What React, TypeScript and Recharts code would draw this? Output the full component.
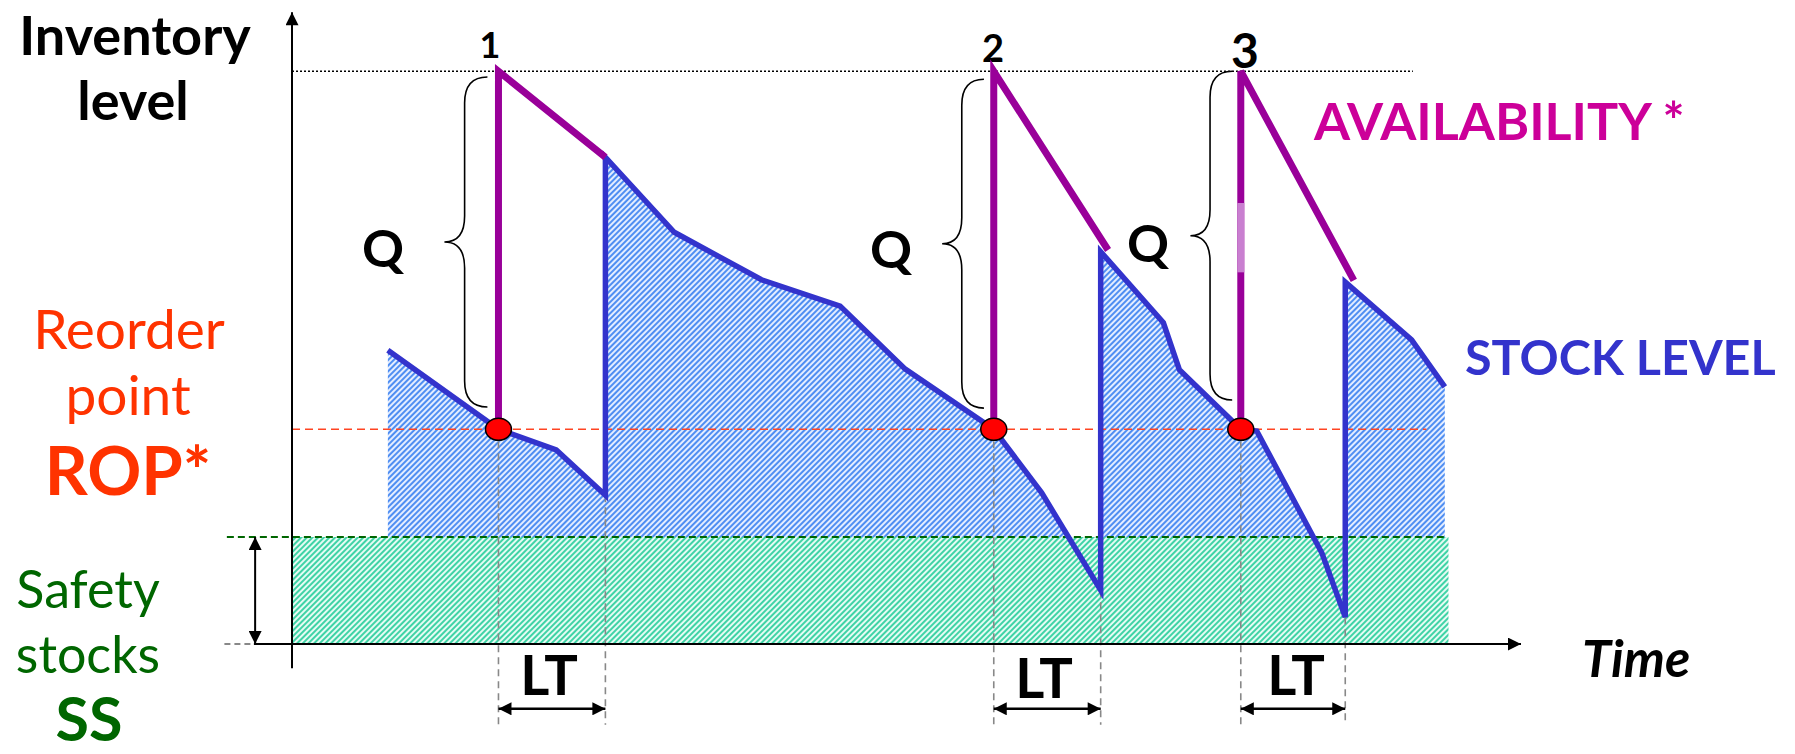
import React from "react";
import {
  Area,
  ComposedChart,
  Line,
  ReferenceArea,
  ReferenceLine,
  Scatter,
  XAxis,
  YAxis
} from "recharts";

// levels in stock units, time in days
const MAX_LEVEL = 100;
const ROP = 37.5;
const SS = 18.7;
const SAFETY_END = 94.1;

const stockTimes = [7.8, 16.8, 21.5, 25.5, 25.5, 31.1, 38.2, 44.6, 49.9, 57.1, 61.0, 65.8, 65.8, 70.9, 72.2, 77.2, 78.5, 83.8, 85.7, 85.7, 91.1, 93.8];
const stockLevels = [51.3, 37.5, 33.9, 26.0, 85.0, 71.9, 63.6, 59.0, 48.0, 37.5, 26.4, 9.4, 68.5, 56.1, 47.9, 37.5, 37.2, 15.9, 4.7, 63.2, 53.1, 44.9];

const orderLabels = ["1", "2", "3"];
const orderTimes = [16.8, 57.1, 77.2];
const receiptTimes = [25.5, 65.8, 85.7];
const availEndTimes = [25.5, 66.4, 86.4];
const availEndLevels = [85.0, 68.8, 63.5];
// lighter stretch on the third order line
const overlapLevels = [77.0, 64.9];

// Q braces: tip / end times, top / bottom levels
const braceTips = [12.4, 52.9, 73.1];
const braceEnds = [15.9, 56.3, 76.5];
const braceTops = [99.0, 98.6, 100];
const braceBottoms = [41.4, 41.2, 42.6];

const LT_LEVEL = -11.3;
const GUIDE_BOTTOM = -14.1;

const stockData = stockTimes.map((t, i) => ({ t, level: stockLevels[i] }));
const safetyData = [
  { t: 0, level: SS },
  { t: SAFETY_END, level: SS }
];
const availData = orderTimes.map((t, i) => [
  { t, level: ROP },
  { t, level: MAX_LEVEL },
  { t: availEndTimes[i], level: availEndLevels[i] }
]);
const orderPoints = orderTimes.map((t) => ({ t, level: ROP }));
const dipLevel = (t: number) => stockLevels[stockTimes.indexOf(t)];

const W = 1795;
const H = 754;
const FONT = "Lato, 'Open Sans', sans-serif";

const arrowLine = (start: boolean, end: boolean, width: number) => (p: any) => (
  <line
    x1={p.x1}
    y1={p.y1}
    x2={p.x2}
    y2={p.y2}
    stroke="#000"
    strokeWidth={width}
    markerStart={start ? "url(#arrowHead)" : undefined}
    markerEnd={end ? "url(#arrowHead)" : undefined}
  />
);

const brace = (p: any) => {
  const { x, y, width: w, height: h } = p;
  const s = x + w * 0.47;
  const m = y + h / 2;
  const r = 26;
  const d = `M${x + w},${y} Q${s},${y} ${s},${y + r} L${s},${m - r} Q${s},${m} ${x},${m} Q${s},${m} ${s},${m + r} L${s},${y + h - r} Q${s},${y + h} ${x + w},${y + h}`;
  return <path d={d} fill="none" stroke="#000" strokeWidth={1.6} />;
};

const ropDot = (p: any) => (
  <ellipse cx={p.cx} cy={p.cy} rx={13} ry={11} fill="#ff0000" stroke="#000" strokeWidth={1.5} />
);

const txt = { fontFamily: FONT, fontSize: 52 };

export default function App() {
  return (
    <div style={{ position: "absolute", left: 0, top: 0, background: "#fff" }}>
      <ComposedChart width={W} height={H} margin={{ top: 14, right: 274, bottom: 87, left: 292 }}>
        <defs>
          <pattern id="hatchStock" width="4" height="4" patternUnits="userSpaceOnUse" patternTransform="rotate(45)">
            <rect width="4" height="4" fill="#e4edff" />
            <line x1="1" y1="0" x2="1" y2="4" stroke="#4f8ef2" strokeWidth="2" />
          </pattern>
          <pattern id="hatchSafety" width="4" height="4" patternUnits="userSpaceOnUse" patternTransform="rotate(45)">
            <rect width="4" height="4" fill="#e6fbf3" />
            <line x1="1" y1="0" x2="1" y2="4" stroke="#3fd3a6" strokeWidth="2" />
          </pattern>
          <marker
            id="arrowHead"
            viewBox="0 0 10 10"
            refX="10"
            refY="5"
            markerWidth="15"
            markerHeight="13"
            markerUnits="userSpaceOnUse"
            orient="auto-start-reverse"
          >
            <path d="M0,0 L10,5 L0,10 z" fill="#000" />
          </marker>
        </defs>

        <XAxis type="number" dataKey="t" domain={[0, 100]} allowDataOverflow hide />
        <YAxis type="number" dataKey="level" domain={[-4, 110]} allowDataOverflow hide />

        <Area
          data={stockData}
          dataKey="level"
          type="linear"
          baseValue={SS}
          stroke="none"
          fill="url(#hatchStock)"
          fillOpacity={1}
          isAnimationActive={false}
        />
        <Area
          data={safetyData}
          dataKey="level"
          type="linear"
          baseValue={0}
          stroke="none"
          fill="url(#hatchSafety)"
          fillOpacity={1}
          isAnimationActive={false}
        />

        {/* guide lines */}
        <ReferenceLine ifOverflow="visible" segment={[{ x: 0, y: MAX_LEVEL }, { x: 91.2, y: MAX_LEVEL }]} stroke="#000" strokeWidth={1.5} strokeDasharray="2 2" />
        <ReferenceLine ifOverflow="visible" segment={[{ x: 0, y: ROP }, { x: 92.3, y: ROP }]} stroke="#ff4422" strokeWidth={1.6} strokeDasharray="8 5" />
        <ReferenceLine ifOverflow="visible" segment={[{ x: -5.3, y: SS }, { x: 93.8, y: SS }]} stroke="#006600" strokeWidth={2} strokeDasharray="7 4" />
        <ReferenceLine ifOverflow="visible" segment={[{ x: -5.5, y: 0 }, { x: -3.1, y: 0 }]} stroke="#888" strokeWidth={2} strokeDasharray="6 4" />
        {orderTimes.map((t) => (
          <ReferenceLine key={`o${t}`} ifOverflow="visible" segment={[{ x: t, y: ROP }, { x: t, y: GUIDE_BOTTOM }]} stroke="#888" strokeWidth={1.6} strokeDasharray="7 5" />
        ))}
        {receiptTimes.map((t) => (
          <ReferenceLine key={`r${t}`} ifOverflow="visible" segment={[{ x: t, y: dipLevel(t) }, { x: t, y: GUIDE_BOTTOM }]} stroke="#888" strokeWidth={1.6} strokeDasharray="7 5" />
        ))}

        {/* axes */}
        <ReferenceLine ifOverflow="visible" segment={[{ x: -3.1, y: 0 }, { x: 100, y: 0 }]} shape={arrowLine(false, true, 2)} />
        <ReferenceLine ifOverflow="visible" segment={[{ x: 0, y: -4.2 }, { x: 0, y: 110.3 }]} shape={arrowLine(false, true, 2)} />
        <ReferenceLine ifOverflow="visible" segment={[{ x: -3.0, y: 0 }, { x: -3.0, y: SS }]} shape={arrowLine(true, true, 2)} />
        {orderTimes.map((t, i) => (
          <ReferenceLine key={`lt${t}`} ifOverflow="visible" segment={[{ x: t, y: LT_LEVEL }, { x: receiptTimes[i], y: LT_LEVEL }]} shape={arrowLine(true, true, 2.5)} />
        ))}

        {/* stock and availability */}
        <Line data={stockData} dataKey="level" type="linear" stroke="#3333cc" strokeWidth={5.5} dot={false} activeDot={false} isAnimationActive={false} />
        {availData.map((d, i) => (
          <Line key={`a${i}`} data={d} dataKey="level" type="linear" stroke="#990099" strokeWidth={7} dot={false} activeDot={false} isAnimationActive={false} />
        ))}
        <Line
          data={overlapLevels.map((level) => ({ t: orderTimes[2], level }))}
          dataKey="level"
          type="linear"
          stroke="#c97fd0"
          strokeWidth={7}
          dot={false}
          activeDot={false}
          isAnimationActive={false}
        />

        {braceTips.map((t, i) => (
          <ReferenceArea
            key={`b${i}`}
            ifOverflow="visible"
            x1={t}
            x2={braceEnds[i]}
            y1={braceBottoms[i]}
            y2={braceTops[i]}
            shape={brace}
          />
        ))}

        <Scatter data={orderPoints} dataKey="level" shape={ropDot} isAnimationActive={false} />

        {/* text */}
        <text x={135} y={55} textAnchor="middle" fontWeight={700} fontFamily={FONT} fontSize={54}>Inventory</text>
        <text x={133} y={120} textAnchor="middle" fontWeight={700} fontFamily={FONT} fontSize={54}>level</text>
        <text x={129} y={349} textAnchor="middle" fill="#ff3300" fontFamily={FONT} fontSize={55}>Reorder</text>
        <text x={128} y={415} textAnchor="middle" fill="#ff3300" fontFamily={FONT} fontSize={55}>point</text>
        <text x={128} y={495} textAnchor="middle" fill="#ff3300" fontWeight={700} fontFamily={FONT} fontSize={67}>ROP*</text>
        <text x={88} y={608} textAnchor="middle" fill="#006600" {...txt}>Safety</text>
        <text x={88} y={673} textAnchor="middle" fill="#006600" {...txt}>stocks</text>
        <text x={89} y={741} textAnchor="middle" fill="#006600" fontWeight={700} fontFamily={FONT} fontSize={61}>SS</text>

        <text x={383} y={267} textAnchor="middle" fontWeight={700} {...txt}>Q</text>
        <text x={891} y={268} textAnchor="middle" fontWeight={700} {...txt}>Q</text>
        <text x={1148} y={262} textAnchor="middle" fontWeight={700} {...txt}>Q</text>

        <text x={490} y={58} textAnchor="middle" fontWeight={700} fontFamily={FONT} fontSize={36}>{orderLabels[0]}</text>
        <text x={993} y={62} textAnchor="middle" fontWeight={700} fontFamily={FONT} fontSize={38}>{orderLabels[1]}</text>
        <text x={1245} y={68} textAnchor="middle" fontWeight={700} fontFamily={FONT} fontSize={48}>{orderLabels[2]}</text>

        <text x={1314} y={140} fill="#cc0099" fontWeight={700} {...txt}>AVAILABILITY *</text>
        <text x={1465} y={375} fill="#3333cc" fontWeight={700} fontFamily={FONT} fontSize={48.5}>STOCK LEVEL</text>

        <text x={549} y={695} textAnchor="middle" fontWeight={700} fontFamily={FONT} fontSize={56}>LT</text>
        <text x={1044} y={698} textAnchor="middle" fontWeight={700} fontFamily={FONT} fontSize={56}>LT</text>
        <text x={1296} y={695} textAnchor="middle" fontWeight={700} fontFamily={FONT} fontSize={56}>LT</text>
        <text x={1582} y={677} fontWeight={700} fontStyle="italic" {...txt}>Time</text>
      </ComposedChart>
    </div>
  );
}
